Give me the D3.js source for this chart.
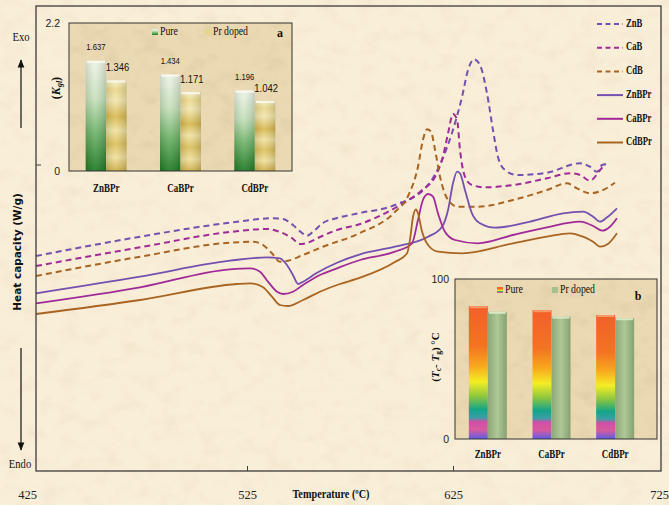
<!DOCTYPE html>
<html><head><meta charset="utf-8">
<script src="https://cdn.jsdelivr.net/npm/d3@7/dist/d3.min.js"></script>
<style>html,body{margin:0;padding:0;background:#f8ecd5}svg{display:block}</style>
</head><body>
<svg id="chart" width="669" height="505"></svg>
<script>
// ---------- DATA ----------
// main DSC curves: [temperature °C, heat capacity (arb. W/g)]
const ZnB = [[422.6,2.15],[473.1,2.343],[516.7,2.483],[537.6,2.527],[542.5,2.52],[547.3,2.46],[551.7,2.38],[554.1,2.353],[557.0,2.393],[561.9,2.48],[568.7,2.53],[579.9,2.58],[596.8,2.66],[612.9,2.86],[619.7,3.11],[624.5,3.38],[629.4,3.743],[632.3,4.01],[635.2,4.117],[638.1,4.06],[641.5,3.777],[644.4,3.41],[646.8,3.143],[650.2,3.01],[656.1,2.96],[670.6,2.983],[686.7,3.077],[691.5,3.043],[694.9,2.993],[697.4,3.06],[700.2,3.07]];
const CaB = [[422.6,2.05],[473.1,2.237],[516.7,2.39],[534.7,2.42],[541.0,2.39],[546.8,2.33],[550.7,2.27],[554.1,2.28],[560.4,2.34],[568.7,2.41],[579.9,2.47],[596.8,2.63],[610.0,2.81],[616.3,2.943],[620.1,3.143],[622.6,3.377],[625.0,3.57],[627.0,3.51],[628.4,3.21],[630.8,2.943],[634.2,2.86],[640.5,2.837],[654.1,2.86],[670.6,2.927],[681.8,2.977],[686.7,2.96],[691.5,2.903],[696.4,3.01],[698.8,3.07]];
const CdB = [[422.6,1.95],[473.1,2.143],[516.7,2.283],[527.9,2.293],[532.8,2.26],[537.1,2.177],[541.0,2.093],[544.9,2.103],[552.2,2.16],[561.9,2.243],[579.9,2.38],[596.8,2.59],[603.2,2.75],[608.0,3.043],[610.4,3.31],[612.4,3.417],[614.3,3.393],[616.3,3.21],[618.7,2.943],[622.6,2.71],[627.4,2.643],[637.1,2.643],[654.1,2.71],[670.6,2.81],[680.3,2.877],[685.2,2.827],[691.5,2.777],[697.8,2.81],[703.6,2.883]];
const ZnBPr = [[422.6,1.777],[473.1,1.943],[516.7,2.103],[534.7,2.137],[541.0,2.127],[544.4,2.06],[547.3,1.96],[549.8,1.87],[552.2,1.893],[559.0,1.983],[568.7,2.083],[579.9,2.167],[596.8,2.243],[612.9,2.343],[619.7,2.443],[622.6,2.61],[625.0,2.877],[627.0,2.993],[628.4,2.977],[630.8,2.81],[634.2,2.577],[638.1,2.477],[645.4,2.433],[662.4,2.493],[678.4,2.577],[688.1,2.593],[693.0,2.543],[696.4,2.493],[699.8,2.537],[704.6,2.627]];
const CaBPr = [[422.6,1.677],[473.1,1.837],[516.7,2.017],[526.5,2.027],[531.3,1.993],[535.2,1.893],[539.6,1.793],[542.5,1.77],[547.3,1.793],[552.2,1.86],[560.4,1.96],[568.7,2.027],[579.9,2.11],[596.8,2.193],[605.1,2.277],[608.0,2.51],[610.4,2.71],[612.9,2.77],[615.3,2.743],[617.7,2.577],[621.1,2.393],[626.0,2.31],[637.1,2.277],[654.1,2.36],[670.6,2.437],[686.7,2.493],[693.0,2.45],[697.4,2.403],[701.2,2.443],[704.6,2.527]];
const CdBPr = [[422.6,1.57],[473.1,1.71],[520.1,1.87],[526.5,1.877],[532.8,1.837],[537.1,1.743],[541.0,1.66],[544.9,1.65],[552.2,1.71],[560.4,1.793],[570.1,1.87],[579.9,1.933],[596.8,2.09],[602.7,2.177],[604.1,2.31],[605.6,2.543],[607.0,2.617],[608.0,2.577],[610.0,2.393],[612.9,2.26],[617.7,2.193],[629.4,2.177],[654.1,2.277],[670.6,2.343],[681.8,2.377],[688.1,2.343],[693.0,2.293],[696.4,2.243],[700.2,2.27],[704.6,2.377]];
const seriesNames = ["ZnB","CaB","CdB","ZnBPr","CaBPr","CdBPr"];
const seriesData = [ZnB, CaB, CdB, ZnBPr, CaBPr, CdBPr];
const seriesColors = ["#7450b0","#a02a98","#a86420","#7450b0","#a02a98","#a86420"];
const seriesDashed = [true,true,true,false,false,false];
const xTicks = [425,525,625,725];

// inset a
const glassCats = ["ZnBPr","CaBPr","CdBPr"];
const kglPure = [1.637,1.434,1.196];
const kglDoped = [1.346,1.171,1.042];
const kglTicks = [0, 2.2];
// inset b
const tcTgPure = [83, 80.5, 77.5];
const tcTgDoped = [79.5, 76.5, 75.5];
const tcTgTicks = [0, 100];
const barGroups = ["Pure","Pr doped"];

// ---------- DRAW ----------
const svg = d3.select("#chart");
const SERIF = "'Liberation Serif','DejaVu Serif',serif";
const SANS = "'Liberation Sans',Arial,sans-serif";
const defs = svg.append("defs");

// paper texture
const f = defs.append("filter").attr("id","tex").attr("x",0).attr("y",0).attr("width","100%").attr("height","100%");
f.append("feTurbulence").attr("type","fractalNoise").attr("baseFrequency","0.05 0.07").attr("numOctaves",4).attr("seed",7);
f.append("feColorMatrix").attr("type","matrix").attr("values","0 0 0 0 0.60  0 0 0 0 0.45  0 0 0 0 0.25  1.3 0 0 0 -0.6");

svg.append("rect").attr("width",669).attr("height",505).attr("fill","#f9eed8");
svg.append("rect").attr("width",669).attr("height",505).attr("filter","url(#tex)").attr("opacity",0.22);

function txt(p, x, y, s, o={}) {
  const t = p.append("text")
    .attr("transform", `translate(${x},${y}) scale(${o.sx ?? 0.8},1)` + (o.rot ? ` rotate(${o.rot})` : ""))
    .attr("text-anchor", o.anchor || "start")
    .attr("dominant-baseline", "middle")
    .attr("font-family", o.family || SERIF)
    .attr("font-size", o.size || 11)
    .attr("font-weight", o.weight || "normal")
    .attr("font-style", o.style || "normal")
    .attr("fill", o.fill || "#111");
  if (s !== null) t.text(s);
  return t;
}

// main frame geometry
const FL = 36, FR = 661, FT = 6, FB = 471;
const x = d3.scaleLinear().domain([425,725]).range([41,659]);
const y = d3.scaleLinear().domain([0,4.65]).range([FB,FT]);

// curves
const line = d3.line().x(d=>x(d[0])).y(d=>y(d[1])).curve(d3.curveMonotoneX);
const gCurves = svg.append("g");
seriesData.forEach((s,i)=>{
  gCurves.append("path").attr("d", line(s)).attr("fill","none")
    .attr("stroke", seriesColors[i]).attr("stroke-width", seriesDashed[i] ? 2 : 1.8)
    .attr("stroke-dasharray", seriesDashed[i] ? "6,4" : null)
    .attr("stroke-linejoin","round");
});

// frame
svg.append("rect").attr("x",FL).attr("y",FT).attr("width",FR-FL).attr("height",FB-FT)
  .attr("fill","none").attr("stroke","#3c3c3c").attr("stroke-width",1.3);
svg.append("line").attr("x1",FL).attr("x2",FL+5).attr("y1",165).attr("y2",165).attr("stroke","#3c3c3c");

// x axis
const xAxis = svg.append("g").attr("transform",`translate(0,${FB})`)
  .call(d3.axisBottom(x).tickValues(xTicks).tickSizeInner(-5).tickSizeOuter(0).tickPadding(19).tickFormat(d3.format("d")));
xAxis.select(".domain").remove();
xAxis.selectAll(".tick line").attr("stroke","#3c3c3c").attr("display", d => (d===425||d===725) ? "none" : null);
xAxis.selectAll(".tick text").attr("font-family",SERIF).attr("font-size",12.5).attr("fill","#222")
  .attr("transform", d => d===425 ? "translate(-14,0)" : null);

txt(svg, 331, 495, "Temperature (ºC)", {size:12.5, weight:"bold", anchor:"middle", sx:0.82});

// y label and arrows
txt(svg, 18, 252, "Heat capacity (W/g)", {size:10.5, weight:"bold", family:"'DejaVu Sans',sans-serif", anchor:"middle", sx:1, rot:-90});
txt(svg, 21, 38, "Exo", {size:12.5, anchor:"middle", sx:0.85});
txt(svg, 20, 465, "Endo", {size:12.5, anchor:"middle", sx:0.85});
defs.append("marker").attr("id","ah").attr("viewBox","0 0 10 10").attr("refX",9).attr("refY",5)
  .attr("markerWidth",7).attr("markerHeight",7).attr("orient","auto-start-reverse")
  .append("path").attr("d","M0,1 L10,5 L0,9 z").attr("fill","#111");
svg.append("line").attr("x1",21).attr("x2",21).attr("y1",128).attr("y2",60).attr("stroke","#111").attr("stroke-width",1.2).attr("marker-end","url(#ah)");
svg.append("line").attr("x1",21).attr("x2",21).attr("y1",348).attr("y2",450).attr("stroke","#111").attr("stroke-width",1.2).attr("marker-end","url(#ah)");

// legend
const lg = svg.append("g");
seriesNames.forEach((n,i)=>{
  const yy = 24 + i*23.7;
  lg.append("line").attr("x1",597).attr("x2",623).attr("y1",yy).attr("y2",yy)
    .attr("stroke",seriesColors[i]).attr("stroke-width",2)
    .attr("stroke-dasharray", seriesDashed[i] ? "5,3.5" : null);
  txt(lg, 626, yy, n, {size:12, weight:"bold", sx:0.72});
});

// ---------- gradients ----------
function grad(id, stops, horiz=false) {
  const g = defs.append("linearGradient").attr("id",id).attr("x1",0).attr("y1",0).attr("x2",horiz?1:0).attr("y2",horiz?0:1);
  stops.forEach(s=>g.append("stop").attr("offset",s[0]).attr("stop-color",s[1]));
}
grad("gPureA", [[0,"#eef4e8"],[0.35,"#c6e0ba"],[0.65,"#6fb46a"],[1,"#1e7a24"]]);
grad("gDopA", [[0,"#f7efc6"],[0.1,"#ecd98c"],[0.22,"#f3e6ae"],[0.4,"#d8b950"],[0.55,"#f1e2a2"],[0.7,"#dcbf5c"],[0.85,"#f0df9c"],[1,"#cfae48"]]);
grad("gPureB", [[0,"#f25f2a"],[0.3,"#f47322"],[0.45,"#f8a81e"],[0.57,"#f4ee24"],[0.68,"#8cc63f"],[0.78,"#12a58a"],[0.84,"#3b9fa6"],[0.87,"#d04ea6"],[0.93,"#d95a9e"],[1,"#5c5ee6"]]);
grad("gDopB", [[0,"#8da876"],[0.5,"#aec796"],[1,"#86a270"]], true);
grad("gShadeH", [[0,"rgba(0,0,0,0.12)"],[0.45,"rgba(255,255,255,0.08)"],[1,"rgba(0,0,0,0.15)"]], true);

// ---------- inset a ----------
const A = {l:69, r:292, t:23, b:171};
const ia = svg.append("g");
ia.append("rect").attr("x",A.l).attr("y",A.t).attr("width",A.r-A.l).attr("height",A.b-A.t).attr("fill","#ead9b3");
ia.append("rect").attr("x",A.l).attr("y",A.t).attr("width",A.r-A.l).attr("height",A.b-A.t).attr("filter","url(#tex)").attr("opacity",0.45);
const xa = d3.scaleBand().domain(glassCats).range([A.l,A.r]);
const xa2 = d3.scaleBand().domain(barGroups).range([-20.5,20.5]);
const ya = d3.scaleLinear().domain([0,2.2]).range([A.b,A.t]);
glassCats.forEach((c,i)=>{
  const cx = xa(c) + xa.bandwidth()/2;
  [[kglPure[i],"Pure","url(#gPureA)"],[kglDoped[i],"Pr doped","url(#gDopA)"]].forEach(([v,gname,fill])=>{
    const bx = cx + xa2(gname), bw = xa2.bandwidth();
    ia.append("rect").attr("x",bx).attr("y",ya(v)).attr("width",bw).attr("height",A.b-ya(v)).attr("fill",fill);
    ia.append("rect").attr("x",bx).attr("y",ya(v)).attr("width",bw).attr("height",A.b-ya(v)).attr("fill","url(#gShadeH)");
    ia.append("rect").attr("x",bx+1).attr("y",ya(v)).attr("width",bw-2).attr("height",2).attr("fill","#fbfaf0").attr("opacity",0.9);
  });
  txt(ia, cx + xa2("Pure") + xa2.bandwidth()/2, ya(kglPure[i]) - 13, d3.format(".3f")(kglPure[i]), {size:9, family:SANS, anchor:"middle", sx:0.85});
  txt(ia, cx + xa2("Pr doped") + xa2.bandwidth()/2 + 1, ya(kglDoped[i]) - 12, d3.format(".3f")(kglDoped[i]), {size:11.5, family:SANS, anchor:"middle", sx:0.82});
  txt(svg, cx, 189, c, {size:11.5, weight:"bold", anchor:"middle", sx:0.78});
});
ia.append("rect").attr("x",A.l).attr("y",A.t).attr("width",A.r-A.l).attr("height",A.b-A.t).attr("fill","none").attr("stroke","#333").attr("stroke-width",1);
const ayAxis = ia.append("g").attr("transform",`translate(${A.l},0)`)
  .call(d3.axisLeft(ya).tickValues(kglTicks).tickSize(0).tickPadding(9).tickFormat(d=>d===0?"0":d3.format(".1f")(d)));
ayAxis.select(".domain").remove();
ayAxis.selectAll(".tick text").attr("font-family",SANS).attr("font-size",10.5).attr("fill","#222");
const kl = txt(ia, 57, 88, null, {size:12, weight:"bold", anchor:"middle", sx:1, rot:-90});
kl.append("tspan").text("(");
kl.append("tspan").attr("font-style","italic").text("K");
kl.append("tspan").attr("font-size",8).attr("dy",3).attr("font-style","italic").text("gl");
kl.append("tspan").attr("dy",-3).text(")");
// legend a
ia.append("rect").attr("x",152).attr("y",29).attr("width",6).attr("height",6).attr("fill","url(#gPureA)");
txt(ia, 160, 32, "Pure", {size:11.5, sx:0.85});
ia.append("rect").attr("x",205).attr("y",29).attr("width",6).attr("height",6).attr("fill","#e6d58c");
txt(ia, 213, 32, "Pr doped", {size:11.5, sx:0.85});
txt(ia, 280, 34, "a", {size:12, weight:"bold", anchor:"middle", sx:1});

// ---------- inset b ----------
const B = {l:455, r:657, t:279, b:439};
const ib = svg.append("g");
ib.append("rect").attr("x",B.l).attr("y",B.t).attr("width",B.r-B.l).attr("height",B.b-B.t).attr("fill","#ead9b3");
ib.append("rect").attr("x",B.l).attr("y",B.t).attr("width",B.r-B.l).attr("height",B.b-B.t).attr("filter","url(#tex)").attr("opacity",0.45);
const xb = d3.scaleBand().domain(glassCats).range([456,647]);
const xb2 = d3.scaleBand().domain(barGroups).range([-19,19]);
const yb = d3.scaleLinear().domain([0,100]).range([B.b,B.t]);
glassCats.forEach((c,i)=>{
  const cx = xb(c) + xb.bandwidth()/2;
  [[tcTgPure[i],"Pure","url(#gPureB)"],[tcTgDoped[i],"Pr doped","url(#gDopB)"]].forEach(([v,gname,fill])=>{
    const bx = cx + xb2(gname), bw = xb2.bandwidth();
    ib.append("rect").attr("x",bx).attr("y",yb(v)).attr("width",bw).attr("height",B.b-yb(v)).attr("fill",fill);
    ib.append("rect").attr("x",bx+1).attr("y",yb(v)).attr("width",bw-2).attr("height",2).attr("fill", gname==="Pure" ? "#f8a070" : "#dfeccc").attr("opacity",0.9);
  });
  txt(svg, cx, 455, c, {size:11.5, weight:"bold", anchor:"middle", sx:0.78});
});
ib.append("rect").attr("x",B.l).attr("y",B.t).attr("width",B.r-B.l).attr("height",B.b-B.t).attr("fill","none").attr("stroke","#333").attr("stroke-width",1);
const byAxis = ib.append("g").attr("transform",`translate(${B.l},0)`)
  .call(d3.axisLeft(yb).tickValues(tcTgTicks).tickSize(0).tickPadding(6).tickFormat(d3.format("d")));
byAxis.select(".domain").remove();
byAxis.selectAll(".tick text").attr("font-family",SANS).attr("font-size",10.5).attr("fill","#222");
const tl = txt(ib, 436, 357, null, {size:11, weight:"bold", anchor:"middle", sx:1, rot:-90});
tl.append("tspan").text("(");
tl.append("tspan").attr("font-style","italic").text("T");
tl.append("tspan").attr("font-size",7.5).attr("dy",3).text("c");
tl.append("tspan").attr("dy",-3).text("- ");
tl.append("tspan").attr("font-style","italic").text("T");
tl.append("tspan").attr("font-size",7.5).attr("dy",3).text("g");
tl.append("tspan").attr("dy",-3).text(") °C");
// legend b
ib.append("rect").attr("x",497).attr("y",287).attr("width",6).attr("height",6).attr("fill","url(#gPureB)");
txt(ib, 505, 290, "Pure", {size:11.5, sx:0.85});
ib.append("rect").attr("x",552).attr("y",287).attr("width",6).attr("height",6).attr("fill","#a6c08e");
txt(ib, 560, 290, "Pr doped", {size:11.5, sx:0.85});
txt(ib, 638, 297, "b", {size:12, weight:"bold", anchor:"middle", sx:1});
</script>
</body></html>
